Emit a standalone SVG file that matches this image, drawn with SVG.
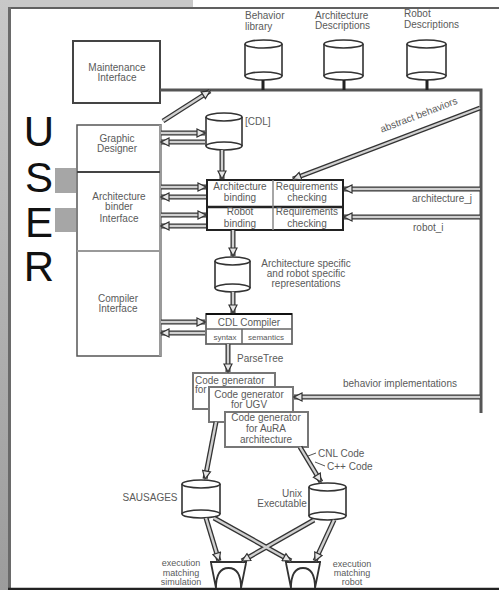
<svg xmlns="http://www.w3.org/2000/svg" width="499" height="590" viewBox="0 0 499 590">
<defs>
<linearGradient id="lg" x1="0" y1="0" x2="0" y2="1">
<stop offset="0" stop-color="#c8c8c8"/><stop offset="1" stop-color="#9c9c9c"/>
</linearGradient>
<marker id="ah" viewBox="0 0 10 10" refX="9" refY="5" markerWidth="10" markerHeight="10" markerUnits="userSpaceOnUse" orient="auto-start-reverse">
<path d="M1,1 L9,5 L1,9 Z" fill="#e6e6e6" stroke="#333" stroke-width="1.2"/>
</marker>
<style>
.t{font-family:"Liberation Sans",Arial,sans-serif;font-size:10px;fill:#5a5a5a;text-anchor:middle}
.ts{font-family:"Liberation Sans",Arial,sans-serif;font-size:10px;fill:#5a5a5a}
.sm{font-size:9px}
.big{font-family:"Liberation Sans",Arial,sans-serif;font-size:42px;fill:#111;text-anchor:middle}
.cyl{fill:#fff;stroke:#333;stroke-width:1.6}
.box{fill:#fff;stroke:#444;stroke-width:2}
.o{fill:none;stroke:#333;stroke-width:5}
.i{fill:none;stroke:#d0d0d0;stroke-width:2.4}
.bus{fill:none;stroke:#555;stroke-width:3}
</style>
</defs>
<rect x="0" y="0" width="499" height="590" fill="#c8c8c8"/>
<rect x="0" y="0" width="11" height="590" fill="url(#lg)"/>
<rect x="193" y="0" width="306" height="8" fill="#fff"/>
<rect x="11" y="9" width="488" height="579" fill="#fff"/>
<line x1="8" y1="8" x2="499" y2="8" stroke="#606060" stroke-width="2"/>
<line x1="9.5" y1="7" x2="9.5" y2="589" stroke="#6a6a6a" stroke-width="3"/>
<line x1="8" y1="589" x2="499" y2="589" stroke="#222" stroke-width="2.5"/>

<g id="user">
<text class="big" x="39" y="146">U</text>
<text class="big" x="39" y="192">S</text>
<text class="big" x="39" y="237">E</text>
<text class="big" x="39" y="281">R</text>
<rect x="55" y="168" width="21" height="25" fill="#a6a6a6"/>
<rect x="55" y="208" width="21" height="24" fill="#a6a6a6"/>
</g>

<g id="maintenance">
<rect class="box" x="73" y="41" width="87" height="62"/>
<text class="t" x="117" y="70.5">Maintenance</text>
<text class="t" x="117" y="80.5">Interface</text>
</g>

<g id="behavior-library">
<path class="cyl" d="M245,44 V76 M282,44 V76"/>
<ellipse class="cyl" cx="263.5" cy="76" rx="18.5" ry="4"/>
<ellipse class="cyl" cx="263.5" cy="44" rx="18.5" ry="4"/>
<text class="ts" x="245" y="18.5">Behavior</text>
<text class="ts" x="245" y="29.5">library</text>
</g>
<g id="architecture-descriptions">
<path class="cyl" d="M324,44 V76 M363,44 V76"/>
<ellipse class="cyl" cx="343.5" cy="76" rx="19.5" ry="4"/>
<ellipse class="cyl" cx="343.5" cy="44" rx="19.5" ry="4"/>
<text class="ts" x="315" y="18.5">Architecture</text>
<text class="ts" x="315" y="28.5">Descriptions</text>
</g>
<g id="robot-descriptions">
<path class="cyl" d="M407,44 V76 M446,44 V76"/>
<ellipse class="cyl" cx="426.5" cy="76" rx="19.5" ry="4"/>
<ellipse class="cyl" cx="426.5" cy="44" rx="19.5" ry="4"/>
<text class="ts" x="404" y="16.5">Robot</text>
<text class="ts" x="404" y="27.5">Descriptions</text>
</g>

<g id="left-panel">
<rect x="77" y="125" width="84" height="231" fill="#fff" stroke="#555" stroke-width="1.5"/>
<line x1="160.5" y1="125" x2="160.5" y2="356" stroke="#9a9a9a" stroke-width="3"/>
<line x1="77" y1="172" x2="160" y2="172" stroke="#444" stroke-width="2"/>
<line x1="77" y1="251" x2="160" y2="251" stroke="#999" stroke-width="2"/>
<text class="t" x="117" y="141.5">Graphic</text>
<text class="t" x="117" y="151.5">Designer</text>
<text class="t" x="119" y="199.5">Architecture</text>
<text class="t" x="119" y="209.5">binder</text>
<text class="t" x="119" y="221.5">Interface</text>
<text class="t" x="118" y="301.5">Compiler</text>
<text class="t" x="118" y="311.5">Interface</text>
</g>

<g id="cdl">
<path class="cyl" d="M206,117 V146 M242,117 V146"/>
<ellipse class="cyl" cx="224" cy="146" rx="18" ry="4"/>
<ellipse class="cyl" cx="224" cy="117" rx="18" ry="4"/>
<text class="ts" x="245" y="124.5">[CDL]</text>
</g>

<g id="binding">
<rect x="207" y="180" width="136" height="50" fill="#fff" stroke="#222" stroke-width="2"/>
<line x1="207" y1="207" x2="343" y2="207" stroke="#222" stroke-width="2.5"/>
<line x1="273" y1="180" x2="273" y2="230" stroke="#888" stroke-width="1.5"/>
<text class="t" x="240" y="189.5">Architecture</text>
<text class="t" x="240" y="200.5">binding</text>
<text class="t" x="307" y="189.5">Requirements</text>
<text class="t" x="307" y="200.5">checking</text>
<text class="t" x="240" y="214.5">Robot</text>
<text class="t" x="240" y="227">binding</text>
<text class="t" x="307" y="214.5">Requirements</text>
<text class="t" x="307" y="227">checking</text>
</g>

<g id="representations">
<path class="cyl" d="M215,261 V288 M250,261 V288"/>
<ellipse class="cyl" cx="232.5" cy="288" rx="17.5" ry="4"/>
<ellipse class="cyl" cx="232.5" cy="261" rx="17.5" ry="4"/>
<text class="t" x="306" y="266.5">Architecture specific</text>
<text class="t" x="306" y="276.5">and robot specific</text>
<text class="t" x="306" y="286.5">representations</text>
</g>

<g id="cdl-compiler">
<rect x="206" y="314" width="86" height="30" fill="#fff" stroke="#666" stroke-width="1.8"/>
<line x1="206" y1="314" x2="292" y2="314" stroke="#111" stroke-width="2"/>
<line x1="206" y1="329" x2="292" y2="329" stroke="#666" stroke-width="1.5"/>
<line x1="242" y1="329" x2="242" y2="344" stroke="#666" stroke-width="1.5"/>
<text class="t" x="249" y="325.5">CDL  Compiler</text>
<text class="t" x="225" y="339.5" style="font-size:8px">syntax</text>
<text class="t" x="266" y="339.5" style="font-size:8px">semantics</text>
</g>

<g id="codegen-1">
<rect x="193" y="373" width="82" height="36" fill="#fff" stroke="#777" stroke-width="2"/>
<text class="ts" x="195" y="383.5">Code generator</text>
<text class="ts" x="195" y="393">for</text>
</g>
<g id="codegen-ugv">
<rect x="209" y="387" width="84" height="35" fill="#fff" stroke="#777" stroke-width="2"/>
<text class="t" x="249" y="397.5">Code generator</text>
<text class="t" x="249" y="407.5">for UGV</text>
</g>
<g id="codegen-aura">
<rect x="225" y="412" width="83" height="35" fill="#fff" stroke="#777" stroke-width="2"/>
<text class="t" x="266" y="420.5">Code generator</text>
<text class="t" x="266" y="431.5">for  AuRA</text>
<text class="t" x="266" y="443">architecture</text>
</g>

<g id="sausages">
<path class="cyl" d="M182,484 V514 M220,484 V514"/>
<ellipse class="cyl" cx="201" cy="514" rx="19" ry="4"/>
<ellipse class="cyl" cx="201" cy="484" rx="19" ry="4"/>
<text class="t" x="150" y="500.5">SAUSAGES</text>
</g>
<g id="unix">
<path class="cyl" d="M309,487 V516 M346,487 V516"/>
<ellipse class="cyl" cx="327.5" cy="516" rx="18.5" ry="4"/>
<ellipse class="cyl" cx="327.5" cy="487" rx="18.5" ry="4"/>
<text class="t" x="292" y="496.5">Unix</text>
<text class="t" x="282" y="506.5">Executable</text>
</g>

<g id="screen-sim">
<path d="M210,562 H247 M211,563 L216,588 M246,563 L241,588 M216,588 Q216,568 228.5,568 Q241,568 241,588" fill="none" stroke="#333" stroke-width="1.8"/>
<text class="t sm" x="181" y="566">execution</text>
<text class="t sm" x="181" y="575.5">matching</text>
<text class="t sm" x="181" y="585">simulation</text>
</g>
<g id="screen-robot">
<path d="M285,562 H321 M286,563 L291,588 M320,563 L315,588 M291,588 Q291,568 303,568 Q315,568 315,588" fill="none" stroke="#333" stroke-width="1.8"/>
<text class="t sm" x="352" y="567">execution</text>
<text class="t sm" x="352" y="576">matching</text>
<text class="t sm" x="352" y="585">robot</text>
</g>

<g id="connectors">
<path class="bus" d="M160,90 H481 V413"/>
<path d="M263,80 V90 M344,80 V90 M427,80 V90" stroke="#222" stroke-width="3" fill="none"/>
<g class="o">
<path d="M210,91 L163,121"/>
<path d="M161,133 H205"/>
<path d="M205,142 H161"/>
<path d="M222,150 V179"/>
<path d="M161,187 H206"/>
<path d="M206,197 H161"/>
<path d="M161,215 H206"/>
<path d="M206,226 H161"/>
<path d="M480,189 H344"/>
<path d="M480,217 H344"/>
<path d="M480,108 L293,179"/>
<path d="M233,230 V256"/>
<path d="M233,292 V313"/>
<path d="M161,322 H205"/>
<path d="M205,333 H161"/>
<path d="M228,344 V372"/>
<path d="M480,397 H294"/>
<path d="M216,422 L205,479"/>
<path d="M300,447 L321,482"/>
<path d="M206,518 L219,561"/>
<path d="M214,518 L291,561"/>
<path d="M314,520 L242,561"/>
<path d="M334,520 L315,561"/>
</g>
<g class="i" marker-end="url(#ah)">
<path d="M163,121 L210,91"/>
<path d="M161,133 H205"/>
<path d="M205,142 H161"/>
<path d="M222,150 V179"/>
<path d="M161,187 H206"/>
<path d="M206,197 H161"/>
<path d="M161,215 H206"/>
<path d="M206,226 H161"/>
<path d="M480,189 H344"/>
<path d="M480,217 H344"/>
<path d="M480,108 L293,179"/>
<path d="M233,230 V256"/>
<path d="M233,292 V313"/>
<path d="M161,322 H205"/>
<path d="M205,333 H161"/>
<path d="M228,344 V372"/>
<path d="M480,397 H294"/>
<path d="M216,422 L205,479"/>
<path d="M300,447 L321,482"/>
<path d="M206,518 L219,561"/>
<path d="M214,518 L291,561"/>
<path d="M314,520 L242,561"/>
<path d="M334,520 L315,561"/>
</g>
<path d="M316,453 L308,456 M325,466 L315,462" stroke="#555" stroke-width="1" fill="none"/>
</g>

<g id="labels">
<text class="t" x="420" y="118" transform="rotate(-21 420 118)">abstract behaviors</text>
<text class="ts" x="412" y="201.5">architecture_j</text>
<text class="ts" x="413" y="230.5">robot_i</text>
<text class="ts" x="237" y="361.5">ParseTree</text>
<text class="ts" x="343" y="386.5">behavior implementations</text>
<text class="ts" x="318" y="456.5">CNL  Code</text>
<text class="ts" x="327" y="469.5">C++ Code</text>
</g>
</svg>
